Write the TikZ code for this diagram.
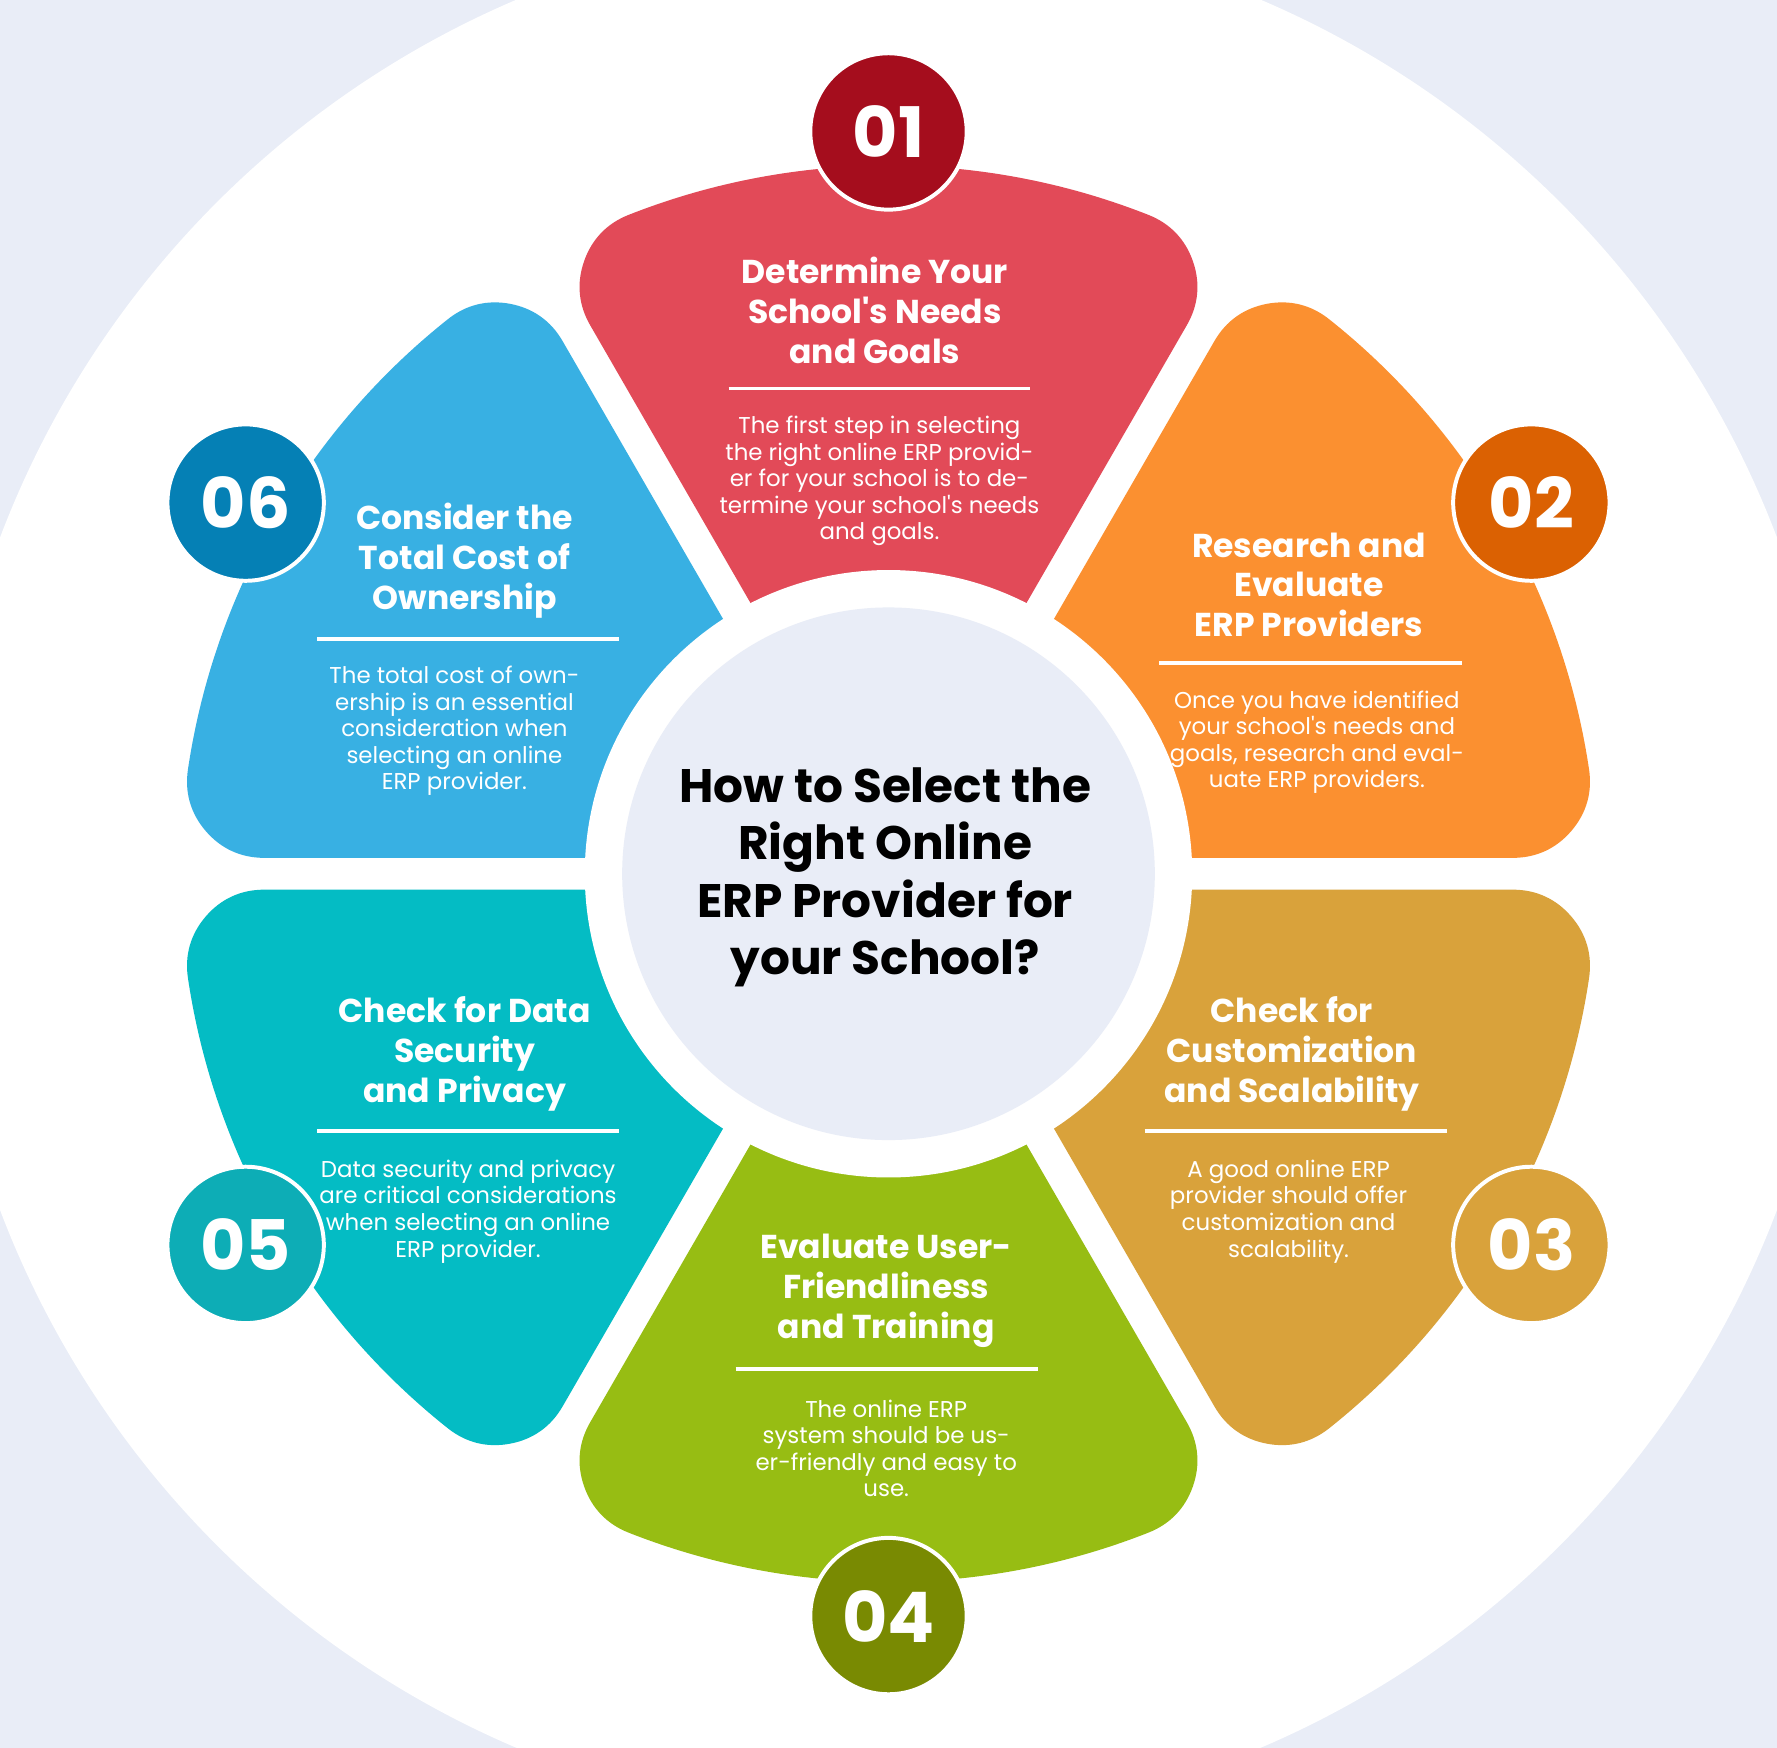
\documentclass[tikz,border=0pt]{standalone}
\usepackage{fontspec}
\setmainfont{Poppins}
\usetikzlibrary{positioning,calc}
\definecolor{pagebg}{HTML}{E9EDF7}
\definecolor{hubc}{HTML}{E9EDF7}
\definecolor{redc}{HTML}{E24A58}
\definecolor{redd}{HTML}{A50D1D}
\definecolor{orangec}{HTML}{FB9030}
\definecolor{oranged}{HTML}{DB6102}
\definecolor{goldc}{HTML}{D9A23B}
\definecolor{greenc}{HTML}{97BD13}
\definecolor{greend}{HTML}{798A02}
\definecolor{tealc}{HTML}{04BCC4}
\definecolor{teald}{HTML}{0DADB6}
\definecolor{bluec}{HTML}{38B0E3}
\definecolor{blued}{HTML}{0580B5}
\newcommand{\q}{\textquotesingle}
% one petal: #1 centre angle, #2 colour (round joins give the rounded tips)
\newcommand{\petal}[2]{%
  \fill[#2,draw=#2,line width=1.36cm,line join=round]
    (#1:1.64) -- ({#1-21.53}:5.57) arc[start angle={#1-21.53},end angle={#1+21.53},radius=5.57] -- cycle;
}
\newcommand{\steprule}[3]{%
  \draw[white,line width=0.03cm] (#1,#3) -- (#2,#3);
}
\tikzset{
  numc/.style={circle,minimum size=1.38cm,inner sep=0pt,draw=white,line width=0.035cm,
    text=white,font=\bfseries\fontsize{17.5}{17.5}\selectfont},
  headtext/.style={align=center,text=white,inner sep=0pt,font=\bfseries\fontsize{8.3}{10}\selectfont},
  bodytext/.style={align=center,text=white,inner sep=0pt,font=\fontsize{5.75}{6.66}\selectfont},
}

\begin{document}
\begin{tikzpicture}
  \useasboundingbox (-7.84,-7.71) rectangle (7.84,7.71);
  \fill[pagebg] (-7.84,-7.71) rectangle (7.84,7.71);
  \fill[white] (0,0) circle (8.38);
  % petals
  \foreach \a/\c in {90/redc,30/orangec,-30/goldc,-90/greenc,-150/tealc,150/bluec} {\petal{\a}{\c}}
  \fill[white] (0,0) circle (2.68);
  \fill[hubc] (0,0) circle (2.35);
  \node[align=center,inner sep=0pt,font=\bfseries\fontsize{11.8}{14.4}\selectfont] (hub) at (-0.03,-0.03)
    {How to Select the\\Right Online\\ERP Provider for\\your School?};
  % numbers
  \node[numc,fill=redd] (n1) at (90:6.55) {01};
  \node[numc,fill=oranged] (n2) at (30:6.55) {02};
  \node[numc,fill=goldc] (n3) at (-30:6.55) {03};
  \node[numc,fill=greend] (n4) at (-90:6.55) {04};
  \node[numc,fill=teald] (n5) at (-150:6.55) {05};
  \node[numc,fill=blued] (n6) at (150:6.55) {06};
  % step 1
  \node[headtext] (h1) at (-0.12,4.97) {Determine Your\\School\q s Needs\\and Goals};
  \steprule{-1.41}{1.25}{4.28}
  \node[bodytext] (b1) at (-0.08,3.465) {The first step in selecting\\the right online ERP provid-\\er for your school is to de-\\termine your school\q s needs\\and goals.};
  % step 2
  \node[headtext] (h2) at (3.71,2.55) {Research and\\Evaluate\\ERP Providers};
  \steprule{2.39}{5.06}{1.86}
  \node[bodytext] (b2) at (3.78,1.16) {Once you have identified\\your school\q s needs and\\goals, research and eval-\\uate ERP providers.};
  % step 3
  \node[headtext] (h3) at (3.56,-1.59) {Check for\\Customization\\and Scalability};
  \steprule{2.26}{4.93}{-2.27}
  \node[bodytext] (b3) at (3.53,-2.98) {A good online ERP\\provider should offer\\customization and\\scalability.};
  % step 4
  \node[headtext] (h4) at (-0.02,-3.68) {Evaluate User-\\Friendliness\\and Training};
  \steprule{-1.35}{1.32}{-4.37}
  \node[bodytext] (b4) at (-0.02,-5.07) {The online ERP\\system should be us-\\er-friendly and easy to\\use.};
  % step 5
  \node[headtext] (h5) at (-3.74,-1.59) {Check for Data\\Security\\and Privacy};
  \steprule{-5.04}{-2.38}{-2.27}
  \node[bodytext] (b5) at (-3.71,-2.98) {Data security and privacy\\are critical considerations\\when selecting an online\\ERP provider.};
  % step 6
  \node[headtext] (h6) at (-3.74,2.76) {Consider the\\Total Cost of\\Ownership};
  \steprule{-5.04}{-2.38}{2.07}
  \node[bodytext] (b6) at (-3.83,1.26) {The total cost of own-\\ership is an essential\\consideration when\\selecting an online\\ERP provider.};
\end{tikzpicture}
\end{document}
